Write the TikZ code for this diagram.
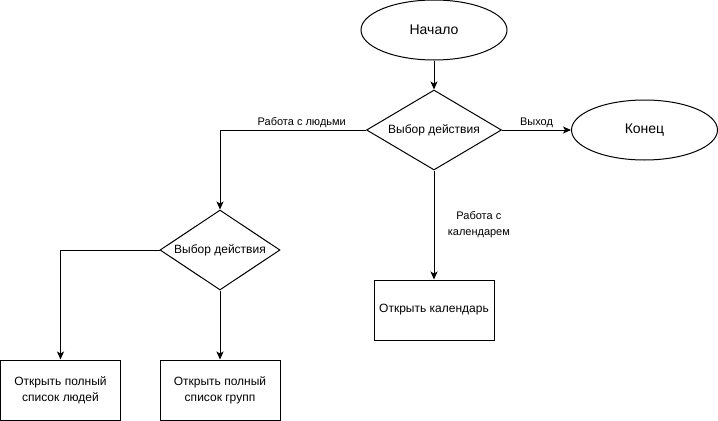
\documentclass[tikz,border=0pt]{standalone}
\usepackage{fontspec}
\setmainfont{Liberation Sans}
\usetikzlibrary{shapes.geometric, positioning, arrows.meta}
\definecolor{colorLine}{RGB}{0, 0, 0}
\tikzstyle{startstop} = [ellipse, minimum width=109.5pt, minimum height=45pt, text centered, draw=colorLine, line width=0.75pt, font=\fontsize{10.5}{12.6}\selectfont]
\tikzstyle{process} = [rectangle, minimum width=90pt, minimum height=45pt, text centered, align=center, draw=colorLine, line width=0.75pt, font=\fontsize{9}{12}\selectfont]
\tikzstyle{decision} = [diamond, aspect=1.69, minimum width=101.25pt, minimum height=60pt, inner sep=0pt, text centered, draw=colorLine, line width=0.75pt, font=\fontsize{9}{12}\selectfont]
\tikzstyle{arrow} = [line width=0.75pt, -{Stealth[length=6pt, width=5.25pt, inset=1.5pt]}, draw=colorLine]
\tikzstyle{edgeText} = [font=\fontsize{8.25}{12}\selectfont, align=center, inner sep=1pt]

\begin{document}
\begin{tikzpicture}[x=0.75pt, y=-0.75pt]

		\useasboundingbox (0,0) rectangle (718,421);

		% start and end
		\node (start)[startstop] at (434,30) {Начало};
		\node (finish)[startstop] at (644.5,130) {Конец};

		% decisions
		\node (decAction)[decision] at (434,130) {Выбор действия};
		\node (decPeople)[decision, aspect=1.5, minimum width=90pt] at (220,250) {Выбор действия};

		% processes
		\node (pCalendar)[process] at (434,310) {Открыть календарь};
		\node (pPeople)[process] at (60.5,390) {Открыть полный \\ список людей};
		\node (pGroups)[process] at (220,390) {Открыть полный \\ список групп};

		% lines and arrows
		\draw[arrow](start) -- (decAction);
		\draw[arrow](decAction.east) -- node[edgeText, above]{Выход} (finish);
		\draw[arrow](decAction.west) -| node[edgeText, above, pos=0.22]{Работа с людьми} (decPeople.north);
		\draw[arrow](decAction.south) -- node[edgeText, right=9pt]{Работа с \\ календарем} (pCalendar.north);

		\draw[arrow](decPeople.west) -| (pPeople.north);
		\draw[arrow](decPeople.south) -- (pGroups.north);

	\end{tikzpicture}
\end{document}
